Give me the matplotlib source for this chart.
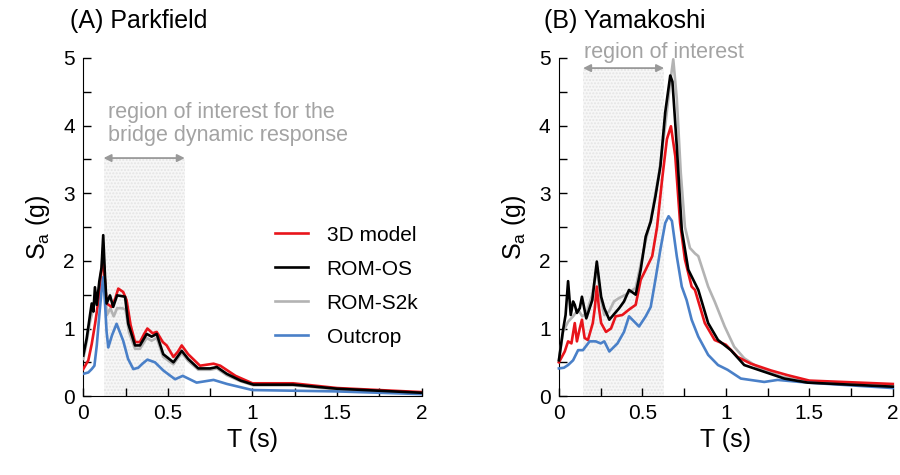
import numpy as np
import matplotlib
matplotlib.use("Agg")
import matplotlib.pyplot as plt
from matplotlib.ticker import MultipleLocator

plt.rcParams['font.family'] = ['Liberation Sans', 'DejaVu Sans']

# ---- (A) Parkfield : spectral acceleration ----
pk_T_3d = [0, 0.03, 0.05, 0.07, 0.09, 0.105, 0.118, 0.128, 0.138, 0.168, 0.19, 0.207, 0.236, 0.256,
           0.28, 0.306, 0.335, 0.36, 0.379, 0.41, 0.434, 0.47, 0.493, 0.533, 0.56, 0.582, 0.62,
           0.69, 0.77, 0.81, 0.9, 1.0, 1.24, 1.5, 2.0]
pk_sa_3d = [0.40, 0.53, 0.77, 1.07, 1.42, 1.8, 2.06, 1.7, 1.37, 1.32, 1.45, 1.59, 1.54, 1.42,
            1.05, 0.80, 0.80, 0.92, 1.0, 0.93, 0.95, 0.80, 0.75, 0.58, 0.66, 0.75, 0.62,
            0.45, 0.48, 0.45, 0.30, 0.19, 0.19, 0.12, 0.06]

pk_T_os = [0, 0.02, 0.04, 0.05, 0.06, 0.069, 0.08, 0.095, 0.108, 0.118, 0.128, 0.138, 0.158, 0.177,
           0.2, 0.225, 0.247, 0.266, 0.306, 0.335, 0.375, 0.404, 0.434, 0.473, 0.533, 0.582,
           0.62, 0.68, 0.75, 0.79, 0.848, 0.93, 1.006, 1.24, 1.5, 2.0]
pk_sa_os = [0.60, 0.85, 1.2, 1.37, 1.25, 1.61, 1.35, 1.7, 1.9, 2.38, 1.8, 1.37, 1.49, 1.32,
            1.49, 1.48, 1.47, 1.07, 0.75, 0.75, 0.92, 0.88, 0.92, 0.62, 0.50, 0.67,
            0.55, 0.41, 0.41, 0.43, 0.33, 0.23, 0.17, 0.17, 0.11, 0.05]

pk_T_s2k = [0, 0.02, 0.04, 0.05, 0.07, 0.09, 0.105, 0.118, 0.13, 0.14, 0.16, 0.18, 0.2, 0.23, 0.25,
            0.27, 0.306, 0.335, 0.375, 0.404, 0.434, 0.473, 0.533, 0.582, 0.62, 0.68, 0.75,
            0.79, 0.848, 0.93, 1.006, 1.24, 1.5, 2.0]
pk_sa_s2k = [0.55, 0.8, 1.1, 1.2, 1.4, 1.5, 1.8, 2.2, 1.5, 1.2, 1.3, 1.18, 1.3, 1.3, 1.28,
             0.95, 0.70, 0.70, 0.86, 0.82, 0.86, 0.58, 0.47, 0.64, 0.52, 0.39, 0.39,
             0.41, 0.31, 0.22, 0.16, 0.16, 0.10, 0.05]

pk_T_out = [0, 0.03, 0.05, 0.066, 0.08, 0.095, 0.108, 0.118, 0.128, 0.138, 0.148, 0.17, 0.197,
            0.236, 0.265, 0.296, 0.325, 0.35, 0.379, 0.424, 0.473, 0.51, 0.543, 0.588, 0.67,
            0.77, 0.85, 1.0, 1.5, 2.0]
pk_sa_out = [0.33, 0.35, 0.40, 0.45, 0.75, 1.2, 1.55, 1.76, 1.4, 0.95, 0.72, 0.90, 1.07,
             0.82, 0.55, 0.40, 0.42, 0.48, 0.54, 0.50, 0.38, 0.31, 0.25, 0.30, 0.20,
             0.24, 0.18, 0.09, 0.07, 0.03]

# ---- (B) Yamakoshi ----
ym_T_3d = [0, 0.035, 0.055, 0.075, 0.095, 0.108, 0.125, 0.138, 0.154, 0.174, 0.203, 0.215, 0.227,
           0.24, 0.253, 0.282, 0.312, 0.34, 0.38, 0.42, 0.46, 0.49, 0.52, 0.559, 0.588, 0.618,
           0.647, 0.671, 0.697, 0.726, 0.755, 0.795, 0.815, 0.874, 0.933, 1.0, 1.07, 1.15,
           1.27, 1.37, 1.5, 2.0]
ym_sa_3d = [0.50, 0.66, 0.81, 0.78, 1.08, 0.81, 1.0, 1.13, 0.86, 0.83, 1.08, 1.3, 1.62,
            1.3, 1.08, 0.95, 1.0, 1.18, 1.2, 1.28, 1.35, 1.72, 1.87, 2.07, 2.5, 3.2,
            3.8, 3.99, 3.55, 2.56, 2.02, 1.62, 1.57, 1.08, 0.83, 0.76, 0.58, 0.48,
            0.38, 0.31, 0.23, 0.18]

ym_T_os = [0, 0.025, 0.04, 0.055, 0.071, 0.085, 0.095, 0.108, 0.125, 0.138, 0.164, 0.2, 0.227,
           0.253, 0.272, 0.302, 0.361, 0.39, 0.42, 0.46, 0.49, 0.52, 0.55, 0.578, 0.608, 0.637,
           0.667, 0.68, 0.706, 0.736, 0.775, 0.835, 0.894, 0.953, 1.03, 1.11, 1.23, 1.35,
           1.49, 2.0]
ym_sa_os = [0.53, 0.98, 1.2, 1.70, 1.2, 1.4, 1.35, 1.23, 1.3, 1.47, 1.15, 1.42, 1.99,
            1.47, 1.3, 1.13, 1.3, 1.4, 1.57, 1.5, 1.87, 2.36, 2.58, 2.95, 3.4, 4.2,
            4.74, 4.65, 3.7, 2.46, 1.87, 1.57, 1.08, 0.83, 0.68, 0.46, 0.36, 0.26,
            0.20, 0.14]

ym_T_s2k = [0, 0.025, 0.055, 0.085, 0.115, 0.14, 0.164, 0.2, 0.227, 0.25, 0.272, 0.3, 0.33, 0.36,
            0.4, 0.46, 0.49, 0.52, 0.55, 0.6, 0.637, 0.67, 0.685, 0.706, 0.73, 0.755, 0.785,
            0.815, 0.835, 0.894, 0.933, 0.993, 1.05, 1.11, 1.19, 1.33, 1.49, 2.0]
ym_sa_s2k = [0.53, 0.95, 1.1, 1.18, 1.28, 1.18, 1.22, 1.5, 1.9, 1.45, 1.2, 1.25, 1.4, 1.45,
             1.5, 1.6, 1.95, 2.3, 2.6, 3.3, 4.0, 4.7, 4.98, 4.4, 3.3, 2.5, 2.19,
             2.11, 2.07, 1.62, 1.4, 1.03, 0.73, 0.56, 0.43, 0.29, 0.21, 0.15]

ym_T_out = [0, 0.03, 0.055, 0.085, 0.115, 0.144, 0.184, 0.22, 0.25, 0.272, 0.302, 0.351, 0.39,
            0.42, 0.44, 0.48, 0.52, 0.55, 0.578, 0.608, 0.637, 0.657, 0.677, 0.706, 0.736,
            0.765, 0.795, 0.835, 0.894, 0.953, 1.01, 1.09, 1.23, 1.31, 1.49, 2.0]
ym_sa_out = [0.41, 0.42, 0.46, 0.53, 0.68, 0.68, 0.81, 0.81, 0.78, 0.81, 0.66, 0.78, 0.95,
             1.18, 1.13, 1.03, 1.18, 1.32, 1.72, 2.17, 2.56, 2.66, 2.59, 2.07, 1.62,
             1.42, 1.13, 0.88, 0.61, 0.46, 0.39, 0.26, 0.21, 0.24, 0.20, 0.12]

labels = ["3D model", "ROM-OS", "ROM-S2k", "Outcrop"]
colors = ["#e8141b", "black", "#b3b3b3", "#4a80c8"]

fig = plt.figure(figsize=(9, 4.75), dpi=100)
axA = fig.add_axes([0.0925, 0.166, 0.376, 0.712])
axB = fig.add_axes([0.621, 0.166, 0.371, 0.712])


def style_axes(ax):
    ax.set_xlim(0, 2)
    ax.set_ylim(0, 5)
    ax.spines['top'].set_visible(False)
    ax.spines['right'].set_visible(False)
    ax.xaxis.set_major_locator(MultipleLocator(0.5))
    ax.xaxis.set_minor_locator(MultipleLocator(0.25))
    ax.yaxis.set_major_locator(MultipleLocator(1))
    ax.yaxis.set_minor_locator(MultipleLocator(0.5))
    ax.tick_params(which='both', direction='in', length=6, width=1, labelsize=15, pad=6)
    ax.set_xticks([0, 0.5, 1, 1.5, 2], ["0", "0.5", "1", "1.5", "2"])
    ax.set_xlabel("T (s)", fontsize=18, labelpad=3)
    ax.set_ylabel("S$_\\mathregular{a}$ (g)", fontsize=18, labelpad=8)


for ax in (axA, axB):
    style_axes(ax)

# region of interest shading
axA.fill_between([0.12, 0.6], 0, 3.5, facecolor='#f7f7f7', edgecolor='#e4e4e4',
                 hatch='.....', linewidth=0, zorder=0)
axB.fill_between([0.145, 0.63], 0, 4.85, facecolor='#f7f7f7', edgecolor='#e4e4e4',
                 hatch='.....', linewidth=0, zorder=0)

arrow = dict(arrowstyle='<|-|>', color='#999999', lw=1.3, mutation_scale=11, shrinkA=0, shrinkB=0)
axA.annotate("", xy=(0.12, 3.52), xytext=(0.6, 3.52), arrowprops=arrow)
axB.annotate("", xy=(0.145, 4.85), xytext=(0.63, 4.85), arrowprops=arrow, annotation_clip=False)
axA.text(0.145, 3.7, "region of interest for the\nbridge dynamic response", color='#a3a3a3',
         fontsize=15.5, ha='left', va='bottom', linespacing=1.1)
axB.text(0.15, 4.93, "region of interest", color='#a3a3a3', fontsize=15.5, ha='left',
         va='bottom', clip_on=False)

pk = [(pk_T_3d, pk_sa_3d), (pk_T_os, pk_sa_os), (pk_T_s2k, pk_sa_s2k), (pk_T_out, pk_sa_out)]
ym = [(ym_T_3d, ym_sa_3d), (ym_T_os, ym_sa_os), (ym_T_s2k, ym_sa_s2k), (ym_T_out, ym_sa_out)]
order = [2, 0, 1, 3]
for i in order:
    axA.plot(pk[i][0], pk[i][1], color=colors[i], lw=1.9, label=labels[i], zorder=3 + (i == 1))
    axB.plot(ym[i][0], ym[i][1], color=colors[i], lw=1.9, zorder=3 + (i == 1), clip_on=False)

h, l = axA.get_legend_handles_labels()
hl = dict(zip(l, h))
axA.legend([hl[k] for k in labels], labels, loc='upper left', bbox_to_anchor=(0.51, 0.56),
           frameon=False, fontsize=15, handlelength=1.6, handletextpad=0.9, labelspacing=0.72)

fig.text(0.078, 0.955, "(A) Parkfield", fontsize=18, ha='left', va='center')
fig.text(0.605, 0.955, "(B) Yamakoshi", fontsize=18, ha='left', va='center')

fig.savefig("out.png", dpi=100)
